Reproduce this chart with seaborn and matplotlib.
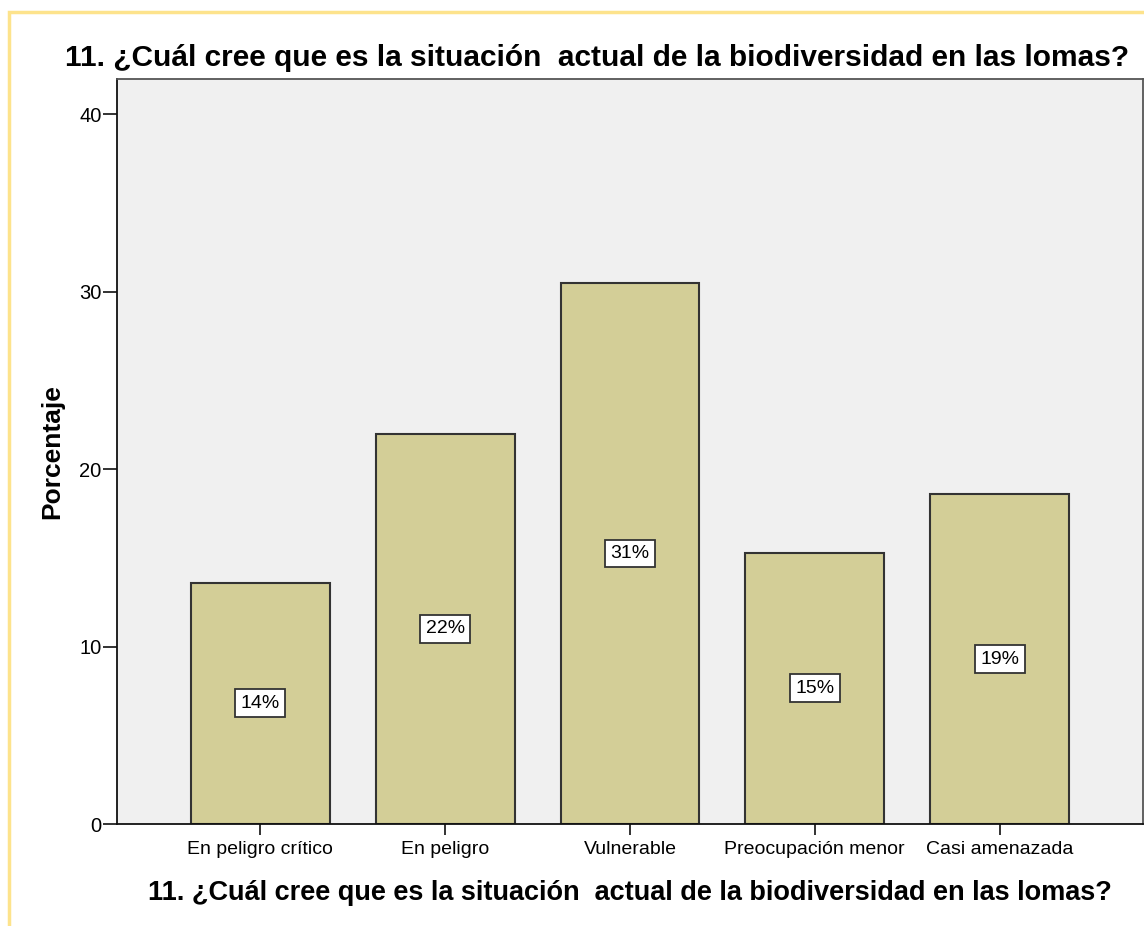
import matplotlib
matplotlib.use("Agg")
import matplotlib.pyplot as plt
import seaborn as sns
import pandas as pd
from matplotlib.patches import Rectangle

categories = ["En peligro crítico", "En peligro", "Vulnerable",
              "Preocupación menor", "Casi amenazada"]
percentages = [13.6, 22.0, 30.5, 15.3, 18.6]
bar_labels = ["14%", "22%", "31%", "15%", "19%"]
y_ticks = [0, 10, 20, 30, 40]

title = "11. ¿Cuál cree que es la situación  actual de la biodiversidad en las lomas?"

df = pd.DataFrame({"categoria": categories, "porcentaje": percentages})

sns.set_style("white")
plt.rcParams["font.family"] = ["Liberation Sans", "DejaVu Sans"]
plt.rcParams["text.color"] = "black"
plt.rcParams["axes.labelcolor"] = "black"
plt.rcParams["xtick.color"] = "black"
plt.rcParams["ytick.color"] = "black"

W, H = 1144, 926
fig = plt.figure(figsize=(W / 100, H / 100), dpi=100)
fig.patch.set_facecolor("white")

# yellow frame (only top and left visible in the original crop)
fig.add_artist(Rectangle((9 / W, -0.1), 1.2, (H - 12) / H + 0.1, transform=fig.transFigure,
                         fill=False, edgecolor="#fde38c", linewidth=2.5))

ax = fig.add_axes([117 / W, (H - 824) / H, (1143 - 117) / W, (824 - 79) / H])
ax.set_facecolor("#f0f0f0")

sns.barplot(data=df, x="categoria", y="porcentaje", color="#d3ce97",
            width=0.75, edgecolor="#333333", linewidth=1.5, saturation=1,
            errorbar=None, ax=ax)

# percentage labels in white boxes, centred in the bars
for i, (v, lab) in enumerate(zip(percentages, bar_labels)):
    ax.text(i, v / 2, lab, ha="center", va="center", fontsize=14,
            bbox=dict(boxstyle="square,pad=0.28", facecolor="white",
                      edgecolor="#333333", linewidth=1.3))

ax.set_xlim(-0.776, 4.776)
ax.set_ylim(0, 42)
ax.set_yticks(y_ticks)
ax.tick_params(axis="both", which="major", bottom=True, left=True,
               direction="out", width=1.3, color="#222222", labelsize=14)
ax.tick_params(axis="x", length=8, pad=4)
ax.tick_params(axis="y", length=10, pad=1, labelsize=14.5)

for side in ["left", "bottom"]:
    ax.spines[side].set_color("#111111")
    ax.spines[side].set_linewidth(1.3)
for side in ["top", "right"]:
    ax.spines[side].set_color("#555555")
    ax.spines[side].set_linewidth(1.3)

ax.set_ylabel("Porcentaje", fontsize=19, fontweight="bold", labelpad=11)
ax.set_xlabel(title, fontsize=19.5, fontweight="bold", labelpad=16)

fig.text(597 / W, 1 - 58 / H, title, ha="center", va="center",
         fontsize=21.5, fontweight="bold")

fig.savefig("out.png", dpi=100)
